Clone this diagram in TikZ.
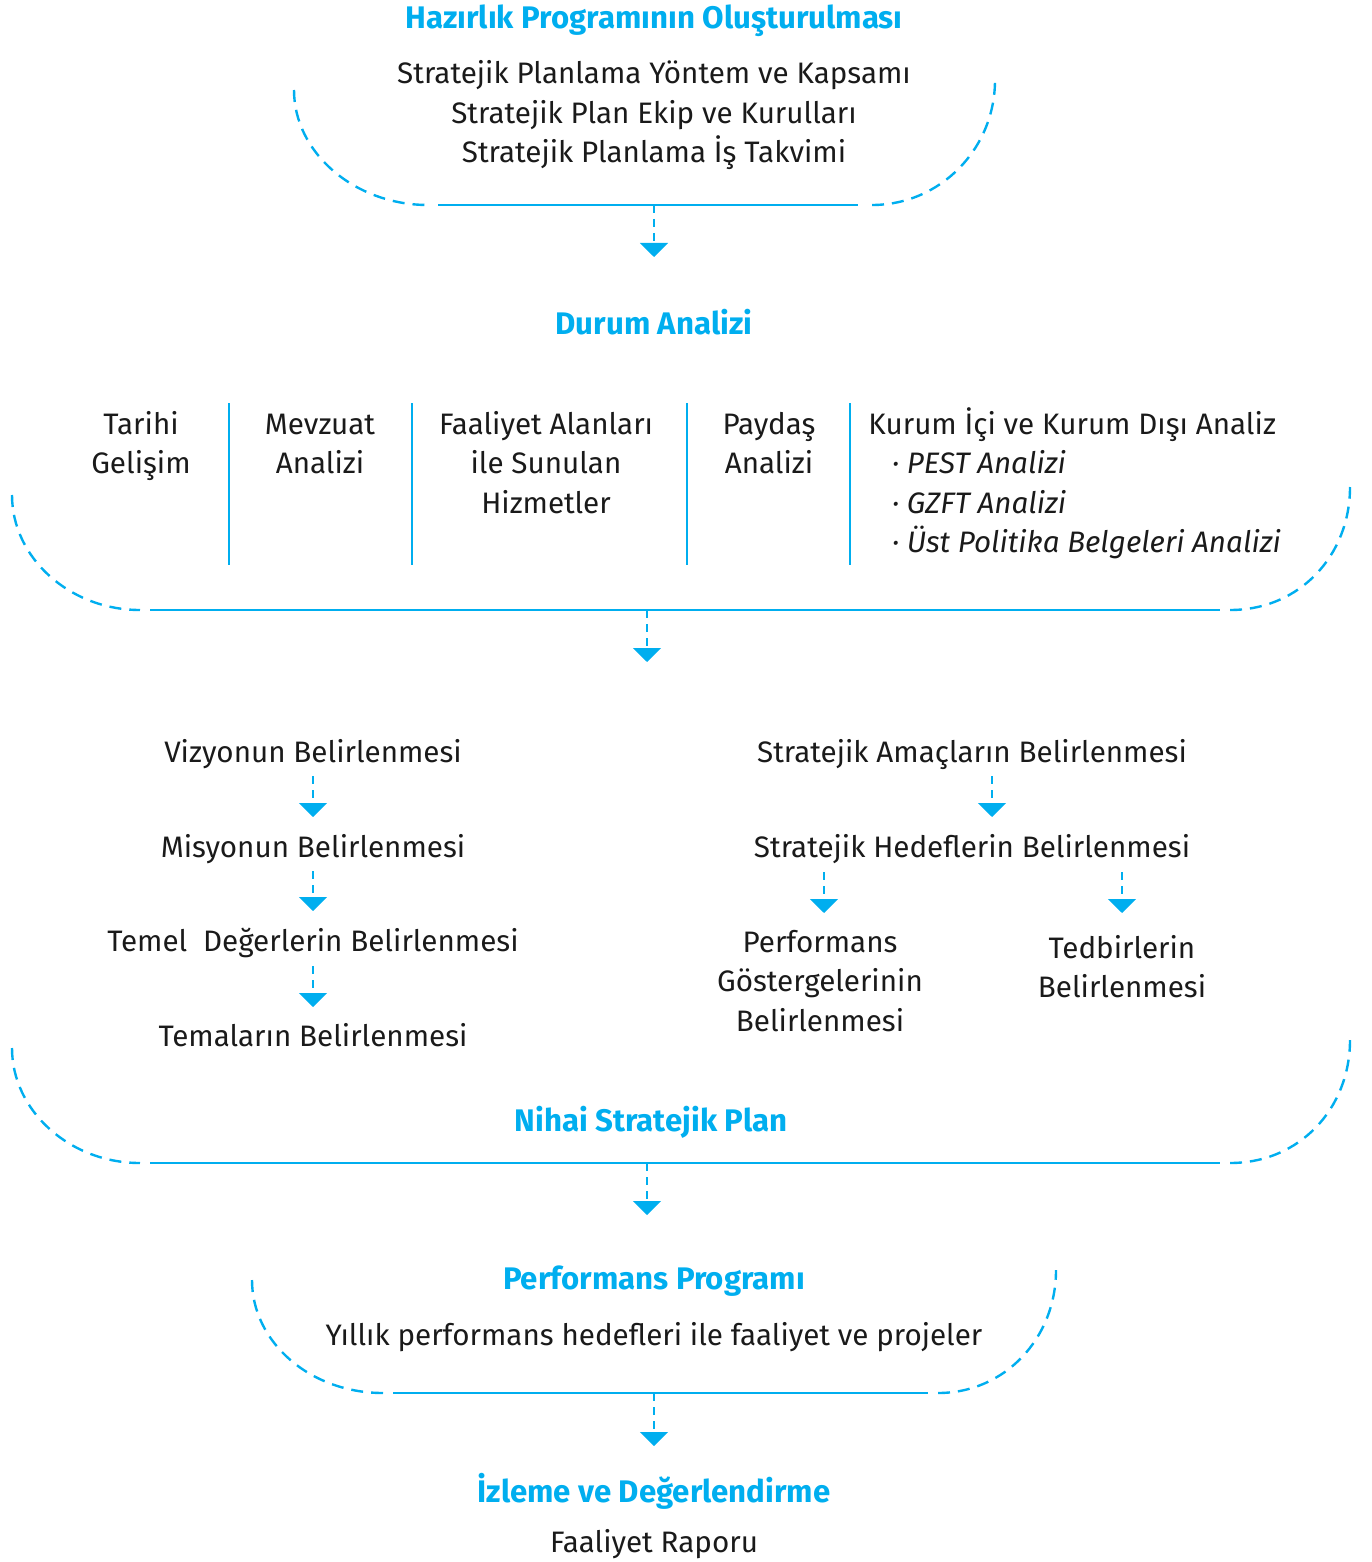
\documentclass[tikz,border=0pt]{standalone}
\usepackage{fontspec}
\setmainfont{Fira Sans}
\usetikzlibrary{arrows.meta}
\definecolor{brand}{HTML}{00AEEF}
\definecolor{ink}{HTML}{1A1A1A}
\newcommand\mlc[1]{\begin{tabular}[t]{@{}c@{}}#1\end{tabular}}
\newcommand\mll[1]{\begin{tabular}[t]{@{}l@{}}#1\end{tabular}}
\begin{document}
\begin{tikzpicture}[x=0.5pt,y=-0.5pt,
  txt/.style={font=\fontsize{14.8}{19.75}\selectfont, text=ink, inner sep=0, anchor=base},
  head/.style={font=\fontsize{15.6}{18}\bfseries\selectfont, text=brand, inner sep=0, anchor=base},
  solidline/.style={draw=brand, line width=1.2pt},
  dashline/.style={draw=brand, line width=1.2pt, dash pattern=on 6pt off 4pt},
  flow/.style={draw=brand, line width=1pt, dash pattern=on 4pt off 3pt, -{Triangle[width=14pt,length=7pt]}},
  sepline/.style={draw=brand, line width=1pt}]
\useasboundingbox (0,0) rectangle (1371,1562);

% ---- Block 1
\node[head] (h1) at (654,29) {Hazırlık Programının Oluşturulması};
\node[txt] (s1) at (654,84) {\mlc{Stratejik Planlama Yöntem ve Kapsamı\\Stratejik Plan Ekip ve Kurulları\\Stratejik Planlama İş Takvimi}};
\draw[dashline] (294,90) .. controls (294,153) and (355,205) .. (428,205);
\draw[solidline] (438,205) -- (858,205);
\draw[dashline] (872,205) .. controls (940,205) and (995,149) .. (995,80);
\coordinate (b1) at (654,205);
\coordinate (e1) at (654,257);
\draw[flow] (b1) -- (e1);

% ---- Block 2
\node[head] (h2) at (654,334) {Durum Analizi};
\node[txt] (c1) at (141,434) {\mlc{Tarihi\\Gelişim}};
\node[txt] (c2) at (320,434) {\mlc{Mevzuat\\Analizi}};
\node[txt] (c3) at (546,434) {\mlc{Faaliyet Alanları\\ile Sunulan\\Hizmetler}};
\node[txt] (c4) at (769,434) {\mlc{Paydaş\\Analizi}};
\node[txt, anchor=base west] (c5) at (868,434) {\mll{Kurum İçi ve Kurum Dışı Analiz\\
  \hspace*{0.8em}\textit{· PEST Analizi}\\
  \hspace*{0.8em}\textit{· GZFT Analizi}\\
  \hspace*{0.8em}\textit{· Üst Politika Belgeleri Analizi}}};
\foreach \x in {229,412,687,850} \draw[sepline] (\x,403) -- (\x,565);
\draw[dashline] (12,495) .. controls (12,558) and (70,610) .. (140,610);
\draw[solidline] (150,610) -- (1220,610);
\draw[dashline] (1230,610) .. controls (1300,610) and (1350,555) .. (1350,487);
\coordinate (b2) at (647,610);
\coordinate (e2) at (647,662);
\draw[flow] (b2) -- (e2);

% ---- Block 3
\node[txt] (v1) at (313,762) {Vizyonun Belirlenmesi};
\node[txt] (v2) at (313,857) {Misyonun Belirlenmesi};
\node[txt] (v3) at (313,951) {Temel\ \ Değerlerin Belirlenmesi};
\node[txt] (v4) at (313,1046) {Temaların Belirlenmesi};
\coordinate (v1b) at (313,776); \coordinate (v2t) at (313,817);
\coordinate (v2b) at (313,871); \coordinate (v3t) at (313,911);
\coordinate (v3b) at (313,966); \coordinate (v4t) at (313,1007);
\draw[flow] (v1b) -- (v2t);
\draw[flow] (v2b) -- (v3t);
\draw[flow] (v3b) -- (v4t);

\node[txt] (r1) at (972,762) {Stratejik Amaçların Belirlenmesi};
\node[txt] (r2) at (972,857) {Stratejik Hedeflerin Belirlenmesi};
\node[txt] (r3) at (820,952) {\mlc{Performans\\Göstergelerinin\\Belirlenmesi}};
\node[txt] (r4) at (1122,958) {\mlc{Tedbirlerin\\Belirlenmesi}};
\coordinate (r1b) at (992,776); \coordinate (r2t) at (992,817);
\coordinate (r2l) at (824,872); \coordinate (r3t) at (824,913);
\coordinate (r2r) at (1122,872); \coordinate (r4t) at (1122,913);
\draw[flow] (r1b) -- (r2t);
\draw[flow] (r2l) -- (r3t);
\draw[flow] (r2r) -- (r4t);

\node[head] (h3) at (651,1131) {Nihai Stratejik Plan};
\draw[dashline] (12,1048) .. controls (12,1111) and (70,1163) .. (140,1163);
\draw[solidline] (150,1163) -- (1220,1163);
\draw[dashline] (1230,1163) .. controls (1300,1163) and (1350,1108) .. (1350,1040);
\coordinate (b3) at (647,1163);
\coordinate (e3) at (647,1215);
\draw[flow] (b3) -- (e3);

% ---- Block 4
\node[head] (h4) at (654,1289) {Performans Programı};
\node[txt] (s4) at (654,1345) {Yıllık performans hedefleri ile faaliyet ve projeler};
\draw[dashline] (252,1280) .. controls (252,1342) and (310,1393) .. (383,1393);
\draw[solidline] (393,1393) -- (928,1393);
\draw[dashline] (938,1393) .. controls (1005,1393) and (1056,1338) .. (1056,1270);
\coordinate (b4) at (654,1393);
\coordinate (e4) at (654,1446);
\draw[flow] (b4) -- (e4);

% ---- Block 5
\node[head] (h5) at (654,1502) {İzleme ve Değerlendirme};
\node[txt] (s5) at (654,1552) {Faaliyet Raporu};
\end{tikzpicture}
\end{document}
